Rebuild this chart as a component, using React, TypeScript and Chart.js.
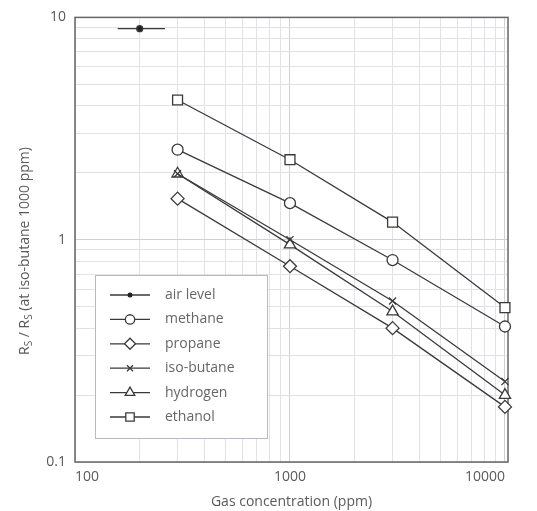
import React, { useEffect, useRef } from 'react';
import { Chart, registerables } from 'chart.js';

Chart.register(...registerables);

// ---- data ----
const concentrations = [300, 1000, 3000, 10000];
const methane = [2.54, 1.46, 0.81, 0.407];
const propane = [1.53, 0.76, 0.4, 0.177];
const isoButane = [1.98, 1.0, 0.53, 0.23];
const hydrogen = [1.98, 0.95, 0.475, 0.2];
const ethanol = [4.25, 2.29, 1.2, 0.495];
const airLevelX = [158, 200, 262];
const airLevelY = [8.9, 8.9, 8.9];
const seriesNames = ['air level', 'methane', 'propane', 'iso-butane', 'hydrogen', 'ethanol'];
const xTickLabels = [100, 1000, 10000];
const yTickLabels = [0.1, 1, 10];
const xTitle = 'Gas concentration (ppm)';
const yTitleParts: [string, boolean][] = [
  ['R', false],
  ['S', true],
  [' / R', false],
  ['S', true],
  [' (at iso-butane 1000 ppm)', false],
];

const LINE = '#3a3a3a';
const TEXT = '#5a5a5a';
const FONT = '"Open Sans", "Noto Sans", sans-serif';

function gridValues(labels: number[]): number[] {
  const out: number[] = [];
  for (let i = 0; i < labels.length - 1; i++) {
    for (let m = 1; m <= 9; m++) out.push(Number((m * labels[i]).toPrecision(6)));
  }
  out.push(labels[labels.length - 1]);
  return out;
}
const xGrid = gridValues(xTickLabels);
const yGrid = gridValues(yTickLabels);

type Style = 'air' | 'circle' | 'rectRot' | 'crossRot' | 'triangle' | 'rect';
const styles: Style[] = ['air', 'circle', 'rectRot', 'crossRot', 'triangle', 'rect'];
const radii = [3, 5.5, 6.5, 5, 6.5, 7];

function drawMarker(ctx: CanvasRenderingContext2D, style: Style, x: number, y: number, r: number) {
  ctx.save();
  ctx.strokeStyle = LINE;
  ctx.lineWidth = 1.3;
  ctx.fillStyle = '#ffffff';
  ctx.beginPath();
  const s = Math.SQRT1_2 * r;
  switch (style) {
    case 'air':
      ctx.fillStyle = '#222';
      ctx.arc(x, y, r, 0, Math.PI * 2);
      ctx.fill();
      break;
    case 'circle':
      ctx.arc(x, y, r, 0, Math.PI * 2);
      ctx.fill();
      ctx.stroke();
      break;
    case 'rectRot':
      ctx.moveTo(x, y - r);
      ctx.lineTo(x + r, y);
      ctx.lineTo(x, y + r);
      ctx.lineTo(x - r, y);
      ctx.closePath();
      ctx.fill();
      ctx.stroke();
      break;
    case 'crossRot':
      ctx.moveTo(x - s, y - s);
      ctx.lineTo(x + s, y + s);
      ctx.moveTo(x + s, y - s);
      ctx.lineTo(x - s, y + s);
      ctx.stroke();
      break;
    case 'triangle':
      ctx.moveTo(x, y - r);
      ctx.lineTo(x + 0.866 * r, y + 0.5 * r);
      ctx.lineTo(x - 0.866 * r, y + 0.5 * r);
      ctx.closePath();
      ctx.fill();
      ctx.stroke();
      break;
    case 'rect':
      ctx.rect(x - s, y - s, 2 * s, 2 * s);
      ctx.fill();
      ctx.stroke();
      break;
  }
  ctx.restore();
}

const decorPlugin = {
  id: 'decor',
  beforeDraw(chart: any) {
    const ctx = chart.ctx as CanvasRenderingContext2D;
    ctx.save();
    ctx.fillStyle = '#ffffff';
    ctx.fillRect(0, 0, chart.width, chart.height);
    ctx.restore();
  },
  beforeDatasetsDraw(chart: any) {
    const ctx = chart.ctx as CanvasRenderingContext2D;
    const a = chart.chartArea;
    ctx.save();
    ctx.strokeStyle = '#666666';
    ctx.lineWidth = 1.5;
    ctx.strokeRect(a.left, a.top, a.right - a.left, a.bottom - a.top);
    ctx.restore();
  },
  afterDatasetsDraw(chart: any) {
    const ctx = chart.ctx as CanvasRenderingContext2D;
    const a = chart.chartArea;
    // legend box
    const bx = a.left + 20;
    const by = a.bottom - 187;
    const bw = 172;
    const bh = 163;
    ctx.save();
    ctx.fillStyle = '#ffffff';
    ctx.fillRect(bx, by, bw, bh);
    ctx.strokeStyle = '#b8b8c8';
    ctx.lineWidth = 1;
    ctx.strokeRect(bx + 0.5, by + 0.5, bw, bh);
    ctx.font = `14px ${FONT}`;
    ctx.textBaseline = 'middle';
    ctx.textAlign = 'left';
    seriesNames.forEach((name, i) => {
      const y = by + 20 + i * 24.4;
      ctx.strokeStyle = LINE;
      ctx.lineWidth = 1.3;
      ctx.beginPath();
      ctx.moveTo(bx + 15, y);
      ctx.lineTo(bx + 55, y);
      ctx.stroke();
      drawMarker(ctx, styles[i], bx + 35, y, i === 0 ? 2.5 : radii[i] * 0.85);
      ctx.fillStyle = '#666666';
      ctx.fillText(name, bx + 70, y);
    });
    ctx.restore();
  },
  afterDraw(chart: any) {
    const ctx = chart.ctx as CanvasRenderingContext2D;
    const a = chart.chartArea;
    ctx.save();
    ctx.fillStyle = TEXT;
    // x title
    ctx.font = `14px ${FONT}`;
    ctx.textAlign = 'center';
    ctx.textBaseline = 'middle';
    ctx.fillText(xTitle, (a.left + a.right) / 2, 502);
    // y title with subscripts
    const big = `14px ${FONT}`;
    const small = `10px ${FONT}`;
    let total = 0;
    const widths = yTitleParts.map(([t, sub]) => {
      ctx.font = sub ? small : big;
      const w = ctx.measureText(t).width;
      total += w;
      return w;
    });
    ctx.translate(24, 251);
    ctx.rotate(-Math.PI / 2);
    ctx.textAlign = 'left';
    ctx.textBaseline = 'alphabetic';
    let x = -total / 2;
    yTitleParts.forEach(([t, sub], i) => {
      ctx.font = sub ? small : big;
      ctx.fillText(t, x, sub ? 8 : 5);
      x += widths[i];
    });
    ctx.restore();
  },
};

function pts(ys: number[], xs: number[] = concentrations) {
  return xs.map((x, i) => ({ x, y: ys[i] }));
}

export default function App() {
  const ref = useRef<HTMLCanvasElement>(null);
  useEffect(() => {
    const seriesData = [airLevelY, methane, propane, isoButane, hydrogen, ethanol];
    const datasets = seriesData.map((ys, i) => ({
      label: seriesNames[i],
      data: i === 0 ? pts(ys, airLevelX) : pts(ys),
      showLine: true,
      borderColor: LINE,
      borderWidth: 1.3,
      backgroundColor: i === 0 ? '#222' : '#ffffff',
      pointBorderColor: LINE,
      pointBackgroundColor: i === 0 ? '#222' : '#ffffff',
      pointBorderWidth: 1.3,
      pointStyle: i === 0 ? 'circle' : styles[i],
      pointRadius: i === 0 ? [0, radii[0], 0] : radii[i],
      clip: false as any,
    }));
    const chart = new Chart(ref.current!, {
      type: 'scatter',
      data: { datasets: datasets as any },
      plugins: [decorPlugin],
      options: {
        responsive: false,
        animation: false,
        layout: { padding: { left: 0, top: 15, right: 29, bottom: 0 } },
        plugins: { legend: { display: false }, tooltip: { enabled: false } },
        scales: {
          x: {
            type: 'logarithmic',
            min: 100,
            max: 10330,
            afterFit: (s: any) => {
              s.height = 49;
            },
            afterBuildTicks: (s: any) => {
              s.ticks = xGrid.map((v) => ({ value: v }));
            },
            border: { display: false },
            grid: {
              drawTicks: false,
              color: (c: any) => (xTickLabels.includes(c.tick?.value) ? '#cfd0d8' : '#e0e2e8'),
              lineWidth: 1,
            },
            ticks: {
              autoSkip: false,
              maxRotation: 0,
              align: 'inner',
              padding: 7,
              color: TEXT,
              font: { family: FONT, size: 14 },
              callback: (v: any) => (xTickLabels.includes(Number(v)) ? String(v) : ''),
            } as any,
          },
          y: {
            type: 'logarithmic',
            min: 0.1,
            max: 10,
            afterFit: (s: any) => {
              s.width = 75;
            },
            afterBuildTicks: (s: any) => {
              s.ticks = yGrid.map((v) => ({ value: v }));
            },
            border: { display: false },
            grid: {
              drawTicks: false,
              color: (c: any) => (yTickLabels.includes(c.tick?.value) ? '#cfd0d8' : '#e0e2e8'),
              lineWidth: 1,
            },
            ticks: {
              autoSkip: false,
              align: 'inner',
              padding: 9,
              color: TEXT,
              font: { family: FONT, size: 14 },
              callback: (v: any) => (yTickLabels.includes(Number(v)) ? String(v) : ''),
            } as any,
          },
        },
      },
    });
    return () => chart.destroy();
  }, []);
  return (
    <div style={{ position: 'absolute', left: 0, top: 0, width: 537, height: 511, background: '#fff' }}>
      <canvas ref={ref} width={537} height={511} style={{ display: 'block', width: 537, height: 511 }} />
    </div>
  );
}
